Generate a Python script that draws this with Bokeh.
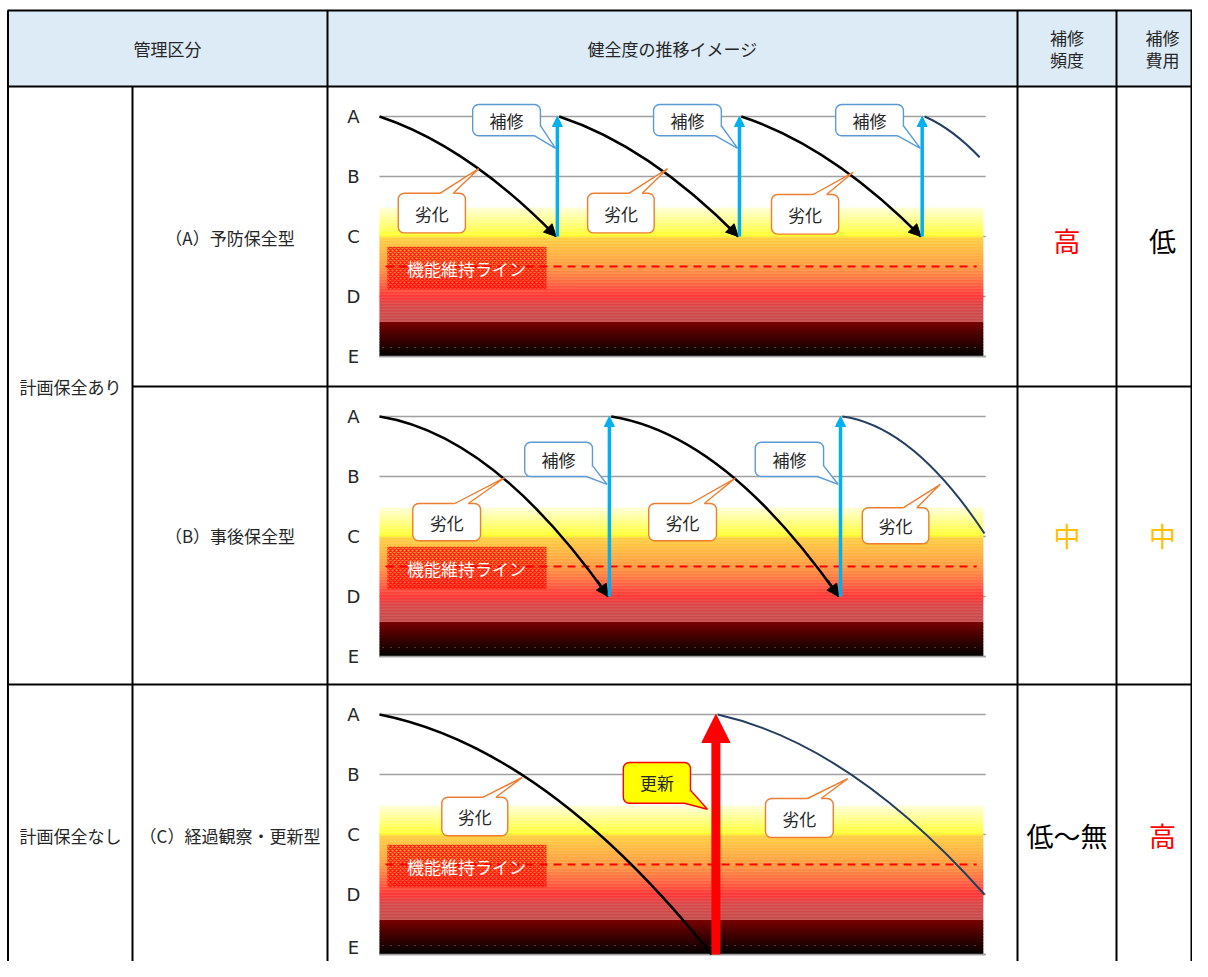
import numpy as np
from bokeh.plotting import figure
from bokeh.models import Range1d, BoxAnnotation, Arrow, NormalHead
from bokeh.core.properties import value
from bokeh.embed import file_html
from bokeh.resources import INLINE

# ---------------- DATA ----------------
header_group = "管理区分"
header_image = "健全度の推移イメージ"
header_freq = ["補修", "頻度"]
header_cost = ["補修", "費用"]
plan_groups = ["計画保全あり", "計画保全なし"]
row_types = ["（A）予防保全型", "（B）事後保全型", "（C）経過観察・更新型"]
freq_labels = ["高", "中", "低～無"]
cost_labels = ["低", "中", "高"]

health_labels = ["A", "B", "C", "D", "E"]
health_values = [4, 3, 2, 1, 0]
function_line_level = 1.5
function_line_label = "機能維持ライン"
repair_label = "補修"
deter_label = "劣化"
renew_label = "更新"

# (A) preventive: deterioration curves (time 0-100, health level E=0..A=4)
a_curve_t0 = [0.0, 29.7, 59.8, 90.1]
a_curve_v0 = [4.0, 4.0, 4.0, 4.0]
a_curve_t1 = [29.2, 59.3, 89.5, 99.2]
a_curve_v1 = [2.0, 2.0, 2.0, 3.32]
a_curve_ct = [14.6, 44.5, 74.65, 94.65]
a_curve_cv = [3.51, 3.51, 3.51, 3.80]
a_curve_head = [True, True, True, False]
a_curve_dark = [False, False, False, True]
a_repair_t = [29.4, 59.5, 89.7]
a_repair_from = [2.0, 2.0, 2.0]

# (B) corrective
b_curve_t0 = [0.0, 38.3, 76.5]
b_curve_v0 = [4.0, 4.0, 4.0]
b_curve_t1 = [37.8, 75.9, 100.0]
b_curve_v1 = [1.0, 1.0, 2.05]
b_curve_ct = [18.9, 57.1, 88.25]
b_curve_cv = [3.70, 3.70, 3.84]
b_curve_head = [True, True, False]
b_curve_dark = [False, False, True]
b_repair_t = [38.0, 76.2]
b_repair_from = [1.0, 1.0]

# (C) observation / renewal
c_curve_t0 = [0.0, 55.9]
c_curve_v0 = [4.0, 4.0]
c_curve_t1 = [54.9, 100.0]
c_curve_v1 = [0.0, 1.0]
c_curve_ct = [27.45, 77.95]
c_curve_cv = [3.45, 3.50]
c_curve_head = [False, False]
c_curve_dark = [False, True]
c_renew_t = [55.6]
c_renew_from = [0.0]

# ---------------- LAYOUT / STYLE ----------------
FONT = "Noto Sans CJK JP"
LATIN = "DejaVu Sans"
TXT = "#262626"
BLUE = "#00B0F0"
REPAIR_EDGE = "#5B9BD5"
DETER_EDGE = "#ED7D31"
DARK = "#243F60"
FW, FH = 1192, 961

# callouts: (kind, left, right, bottom, top, tip_t, tip_v)
callouts = [
    [("repair", 15.4, 26.6, 3.68, 4.20, 29.1, 3.47),
     ("repair", 45.3, 56.5, 3.68, 4.20, 59.2, 3.47),
     ("repair", 75.4, 86.6, 3.68, 4.20, 89.4, 3.47),
     ("deter", 3.1, 14.2, 2.06, 2.72, 16.4, 3.13),
     ("deter", 34.4, 45.4, 2.06, 2.72, 47.6, 3.13),
     ("deter", 64.8, 75.9, 2.04, 2.70, 78.3, 3.07)],
    [("repair", 24.0, 35.2, 3.00, 3.57, 37.6, 2.87),
     ("repair", 62.1, 73.4, 3.00, 3.57, 75.8, 2.87),
     ("deter", 5.5, 16.7, 1.93, 2.55, 20.7, 2.98),
     ("deter", 44.5, 55.7, 1.93, 2.55, 58.8, 2.97),
     ("deter", 79.8, 90.8, 1.88, 2.48, 92.7, 2.87)],
    [("deter", 10.3, 21.2, 1.98, 2.62, 23.6, 2.95),
     ("deter", 63.8, 75.0, 1.95, 2.60, 77.4, 2.93),
     ("renew", 40.3, 51.4, 2.52, 3.20, 54.2, 2.42)],
]

grad_v = [0.0, 0.30, 0.57, 0.575, 0.85, 1.0, 1.2, 1.5, 1.98, 2.0, 2.02, 2.25, 2.48]
grad_c = ["#000000", "#3C0000", "#780000", "#C44A4A", "#D84646", "#FF3333",
          "#FF6040", "#FF9A40", "#FFD040", "#FFF030", "#FFFF33", "#FFFF88", "#FFFFD8"]


def h2rgb(h):
    return [int(h[i:i + 2], 16) for i in (1, 3, 5)]


grad_rgb = np.array([h2rgb(c) for c in grad_c], float)


def grad_color(v, k):
    rgb = np.array([np.interp(v, grad_v, grad_rgb[:, j]) for j in range(3)])
    if k % 2 == 1 and v > 0.575:
        rgb = rgb + (255 - rgb) * 0.10
    r, g, b = [int(round(x)) for x in rgb]
    return "#%02X%02X%02X" % (r, g, b)


p = figure(width=FW, height=FH, x_range=Range1d(0, FW), y_range=Range1d(FH, 0),
           output_backend="svg", toolbar_location=None, min_border=0,
           x_axis_type=None, y_axis_type=None, outline_line_color=None,
           background_fill_color="white", border_fill_color="white")

# header background
p.quad(left=7, right=FW, top=10, bottom=86, fill_color="#DDEBF7", line_color=None)

# panels
T0_PX, PX_T = 379.0, 6.05
A_PX = [116, 416, 714]
xr, yr = {}, {}
for r, a in enumerate(A_PX):
    e = a + 240
    xr[f"t{r}"] = Range1d((0 - T0_PX) / PX_T, (FW - T0_PX) / PX_T)
    yr[f"v{r}"] = Range1d((e - FH) / 60.0, (e - 0) / 60.0)
p.extra_x_ranges = xr
p.extra_y_ranges = yr

rows = [
    dict(t0=a_curve_t0, v0=a_curve_v0, t1=a_curve_t1, v1=a_curve_v1, ct=a_curve_ct, cv=a_curve_cv,
         head=a_curve_head, dark=a_curve_dark, up_t=a_repair_t, up_from=a_repair_from, renew=False),
    dict(t0=b_curve_t0, v0=b_curve_v0, t1=b_curve_t1, v1=b_curve_v1, ct=b_curve_ct, cv=b_curve_cv,
         head=b_curve_head, dark=b_curve_dark, up_t=b_repair_t, up_from=b_repair_from, renew=False),
    dict(t0=c_curve_t0, v0=c_curve_v0, t1=c_curve_t1, v1=c_curve_v1, ct=c_curve_ct, cv=c_curve_cv,
         head=c_curve_head, dark=c_curve_dark, up_t=c_renew_t, up_from=c_renew_from, renew=True),
]

for r, row in enumerate(rows):
    kw = dict(x_range_name=f"t{r}", y_range_name=f"v{r}")
    # grid lines
    p.segment(x0=[0] * 5, y0=health_values, x1=[100.2] * 5, y1=health_values,
              line_color="#A0A0A0", line_width=1.6, **kw)
    # gradient band
    vb = np.arange(0.0, 2.48, 0.025)
    vt = np.minimum(vb + 0.032, 2.48)
    cols = [grad_color(v + 0.0125, k) for k, v in enumerate(vb)]
    p.quad(left=0, right=99.8, bottom=vb, top=vt, fill_color=cols, line_color=None, **kw)
    p.segment(x0=[0], y0=[0], x1=[100.2], y1=[0], line_color="#A0A0A0", line_width=1.6, **kw)
    p.segment(x0=[0.5], y0=[0.15], x1=[99.5], y1=[0.15], line_color="#9A9A9A",
              line_alpha=0.7, line_width=1, line_dash="1 7", **kw)
    # function-maintenance zone
    p.quad(left=[1.3], right=[27.6], bottom=[1.12], top=[1.83], fill_color="#FF3300",
           fill_alpha=0.2, hatch_pattern="x", hatch_color="#FF0000", hatch_scale=4,
           hatch_weight=1.4, hatch_alpha=0.75, line_color=None, **kw)
    p.segment(x0=[1.0], y0=[function_line_level], x1=[98.7], y1=[function_line_level],
              line_color="#FF0000", line_width=2.2, line_dash="8 6", **kw)
    # curves
    lc = [DARK if d else "black" for d in row["dark"]]
    lw = [2.0 if d else 2.5 for d in row["dark"]]
    p.quadratic(x0=row["t0"], y0=row["v0"], x1=row["t1"], y1=row["v1"],
                cx=row["ct"], cy=row["cv"], line_color=lc, line_width=lw, **kw)
    for i, hd in enumerate(row["head"]):
        if hd:
            t1, v1, ct, cv = row["t1"][i], row["v1"][i], row["ct"][i], row["cv"][i]
            p.add_layout(Arrow(end=NormalHead(size=12, fill_color="black", line_color="black"),
                               x_start=t1 - 0.1 * (t1 - ct), y_start=v1 - 0.1 * (v1 - cv),
                               x_end=t1, y_end=v1, line_color="black", line_width=2.5, **kw))
    # repair / renewal arrows
    for t, v in zip(row["up_t"], row["up_from"]):
        if row["renew"]:
            p.add_layout(Arrow(end=NormalHead(size=28, fill_color="#FF0000", line_color="#FF0000"),
                               x_start=t, y_start=v, x_end=t, y_end=4,
                               line_color="#FF0000", line_width=9, **kw))
        else:
            p.add_layout(Arrow(end=NormalHead(size=10, fill_color=BLUE, line_color=BLUE),
                               x_start=t, y_start=v, x_end=t, y_end=4,
                               line_color=BLUE, line_width=3.5, **kw))
    # callouts
    fxs, fys, fcs, lxs, lys, lcs = [], [], [], [], [], []
    tx, ty, tt = [], [], []
    for kind, l, rr, b, tp, tipt, tipv in callouts[r]:
        if kind == "deter":
            edge, fill, lab = DETER_EDGE, "white", deter_label
        elif kind == "repair":
            edge, fill, lab = REPAIR_EDGE, "white", repair_label
        else:
            edge, fill, lab = "#FF0000", "#FFFF00", renew_label
        p.add_layout(BoxAnnotation(left=l, right=rr, bottom=b, top=tp, fill_color=fill, fill_alpha=1,
                                   line_color=edge, line_alpha=1, line_width=1.4, border_radius=6,
                                   **kw))
        w, h = rr - l, tp - b
        if kind == "deter":
            b1 = (l + 0.62 * w, tp)
            b2 = (l + 0.82 * w, tp)
            fxs.append([b1[0], b1[0], tipt, b2[0], b2[0]])
            fys.append([tp - 0.04, tp, tipv, tp, tp - 0.04])
        else:
            b1 = (rr, b + 0.32 * h)
            b2 = (l + 0.91 * w, b)
            fxs.append([b1[0], tipt, b2[0]])
            fys.append([b1[1], tipv, b2[1]])
        fcs.append(fill)
        lxs.append([b1[0], tipt, b2[0]])
        lys.append([b1[1], tipv, b2[1]])
        lcs.append(edge)
        tx.append((l + rr) / 2)
        ty.append((b + tp) / 2)
        tt.append(lab)
    p.patches(xs=fxs, ys=fys, fill_color=fcs, line_color=None, level="overlay", **kw)
    p.multi_line(xs=lxs, ys=lys, line_color=lcs, line_width=1.4, level="overlay", **kw)
    p.text(x=tx, y=ty, text=tt, text_font=value(FONT), text_font_size=value("17px"),
           text_color=TXT, text_align="center", text_baseline="middle", level="overlay", **kw)
    p.text(x=[14.4], y=[1.46], text=[function_line_label], text_font=value(FONT),
           text_font_size=value("17px"), text_color="white",
           text_align="center", text_baseline="middle", level="overlay", **kw)
    label_y = list(health_values)
    if r == len(rows) - 1:
        label_y[-1] = 0.12  # keep the last E inside the picture's lower edge
    p.text(x=[-4.3] * 5, y=label_y, text=health_labels, text_font=value(LATIN),
           text_font_size=value("18px"), text_color=TXT, text_align="center",
           text_baseline="middle", **kw)

# table lines
segs = [
    (7, 10, FW, 10), (7, 86, FW, 86), (132, 386, FW, 386), (7, 684, FW, 684),
    (7.5, 10, 7.5, FH), (132, 86, 132, FH), (327, 10, 327, FH),
    (1017, 10, 1017, FH), (1116, 10, 1116, FH), (FW - 1, 10, FW - 1, FH),
]
p.segment(x0=[s[0] for s in segs], y0=[s[1] for s in segs], x1=[s[2] for s in segs],
          y1=[s[3] for s in segs], line_color="black", line_width=2)

tk = dict(text_font=value(FONT), text_align="center", text_baseline="middle")
p.text(x=[167, 672, 1066.5, 1066.5, 1162, 1162], y=[48, 48, 37, 59, 37, 59],
       text=[header_group, header_image, header_freq[0], header_freq[1], header_cost[0], header_cost[1]],
       text_font_size=value("17px"), text_color=TXT, **tk)
p.text(x=[70, 70], y=[386, 835], text=plan_groups, text_font_size=value("17px"), text_color=TXT, **tk)
p.text(x=[229.5, 229.5, 229.5], y=[237, 535, 835], text=row_types, text_font_size=value("17px"),
       text_color=TXT, **tk)
p.text(x=[1066.5] * 3, y=[240, 535, 835], text=freq_labels, text_font_size=value("27px"),
       text_color=["#FF0000", "#FFC000", "#000000"], **tk)
p.text(x=[1162] * 3, y=[240, 535, 835], text=cost_labels, text_font_size=value("27px"),
       text_color=["#000000", "#FFC000", "#FF0000"], **tk)

open("out.html", "w").write(file_html(p, INLINE))
